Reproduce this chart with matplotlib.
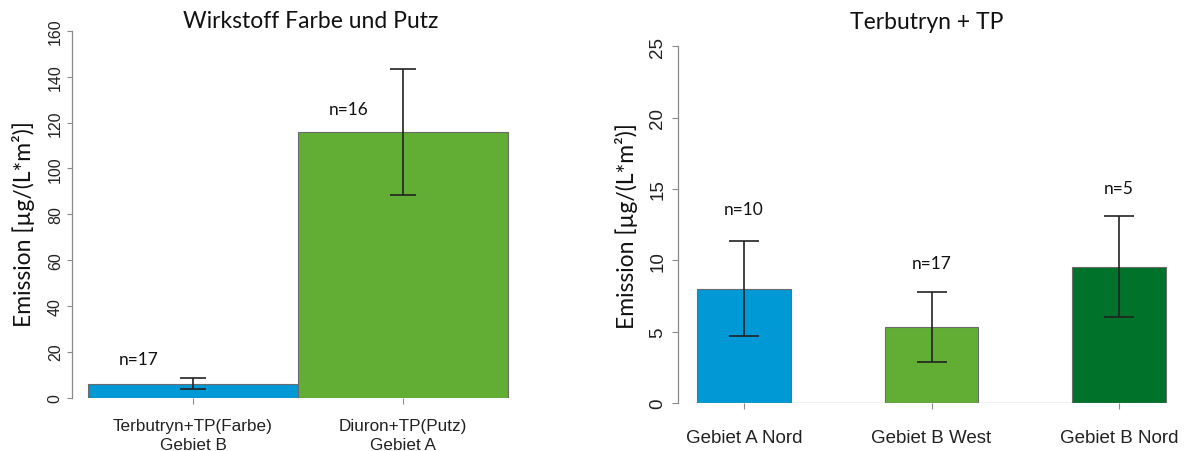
import matplotlib
matplotlib.use("Agg")
import matplotlib.pyplot as plt

# left panel: Wirkstoff Farbe und Putz
left_labels = ["Terbutryn+TP(Farbe)\nGebiet B", "Diuron+TP(Putz)\nGebiet A"]
left_means = [5.9, 116.0]
left_low = [3.5, 88.6]
left_high = [8.3, 143.3]
left_n = ["n=17", "n=16"]
left_n_y = [16.8, 126.0]

# right panel: Terbutryn + TP
right_labels = ["Gebiet A Nord", "Gebiet B West", "Gebiet B Nord"]
right_means = [8.0, 5.35, 9.55]
right_low = [4.73, 2.9, 6.0]
right_high = [11.35, 7.8, 13.08]
right_n = ["n=10", "n=17", "n=5"]
right_n_y = [13.6, 9.8, 15.07]

blue = "#0099d5"
green = "#62ae35"
dgreen = "#007229"

title_font = "Lato"
tick_font = "Liberation Sans"
axis_gray = "#8a8a8a"
text_col = "#222222"

fig = plt.figure(figsize=(11.86, 4.52), dpi=100)

# ---- left
ax1 = fig.add_axes([72 / 1186, (452 - 398.5) / 452, 484 / 1186, 366.5 / 452])
xs1 = list(range(len(left_means)))
ax1.bar(xs1, left_means, width=1.0, color=[blue, green], edgecolor="#6b6b6b", linewidth=0.8)
err1 = [[m - lo for m, lo in zip(left_means, left_low)], [hi - m for m, hi in zip(left_means, left_high)]]
ax1.errorbar(xs1, left_means, yerr=err1, fmt="none", ecolor=text_col, elinewidth=1.2, capsize=9.4, capthick=1.2)
for x, t, y in zip(xs1, left_n, left_n_y):
    ax1.text(x - 0.26, y, t, ha="center", va="center", fontsize=12.5, family=title_font, color="#111111")
ax1.set_xlim(-0.576, 1.729)
ax1.set_ylim(0, 160)
ax1.set_yticks(range(0, 161, 20))
ax1.set_xticks(xs1)
ax1.set_xticklabels(left_labels, family=tick_font, fontsize=12.3, color=text_col, linespacing=1.3)
ax1.tick_params(axis="x", length=4.3, color=axis_gray, pad=10.5)
ax1.tick_params(axis="y", length=3.6, color=axis_gray, pad=3, labelsize=11.5, labelcolor=text_col)
for lab in ax1.get_yticklabels():
    lab.set_rotation(90)
    lab.set_va("center")
    lab.set_family(tick_font)
ax1.set_title("Wirkstoff Farbe und Putz", family=title_font, fontsize=16.5, color="#111111", pad=0, x=(311 - 72) / 484)
ax1.set_ylabel("Emission [µg/(L*m²)]", family=title_font, fontsize=16.5, color="#111111")
ax1.yaxis.set_label_coords(-0.076, 0.475)

# ---- right
ax2 = fig.add_axes([678 / 1186, (452 - 404) / 452, 498 / 1186, 356.7 / 452])
xs2 = list(range(len(right_means)))
ax2.bar(xs2, right_means, width=0.5, color=[blue, green, dgreen], edgecolor="#6b6b6b", linewidth=0.8)
err2 = [[m - lo for m, lo in zip(right_means, right_low)], [hi - m for m, hi in zip(right_means, right_high)]]
ax2.errorbar(xs2, right_means, yerr=err2, fmt="none", ecolor=text_col, elinewidth=1.2, capsize=10.8, capthick=1.2)
for x, t, y in zip(xs2, right_n, right_n_y):
    ax2.text(x, y, t, ha="center", va="center", fontsize=12.5, family=title_font, color="#111111")
ax2.hlines(0, -0.25, 2.25, color=axis_gray, linewidth=0.9)
ax2.set_xlim(-0.352, 2.304)
ax2.set_ylim(0, 25)
ax2.set_yticks(range(0, 26, 5))
ax2.set_xticks(xs2)
ax2.set_xticklabels(right_labels, family=tick_font, fontsize=13.5, color=text_col)
ax2.tick_params(axis="x", length=4.3, color=axis_gray, pad=14.5)
ax2.tick_params(axis="y", length=4.3, color=axis_gray, pad=4, labelsize=13.5, labelcolor=text_col)
for lab in ax2.get_yticklabels():
    lab.set_rotation(90)
    lab.set_va("center")
    lab.set_family(tick_font)
ax2.set_title("Terbutryn + TP", family=title_font, fontsize=16.5, color="#111111", pad=13)
ax2.set_ylabel("Emission [µg/(L*m²)]", family=title_font, fontsize=16.5, color="#111111")
ax2.yaxis.set_label_coords(-0.080, 0.5)

for ax in (ax1, ax2):
    for s in ("top", "right", "bottom"):
        ax.spines[s].set_visible(False)
    ax.spines["left"].set_color(axis_gray)
    ax.spines["left"].set_linewidth(0.9)

fig.savefig("out.png", dpi=100)
